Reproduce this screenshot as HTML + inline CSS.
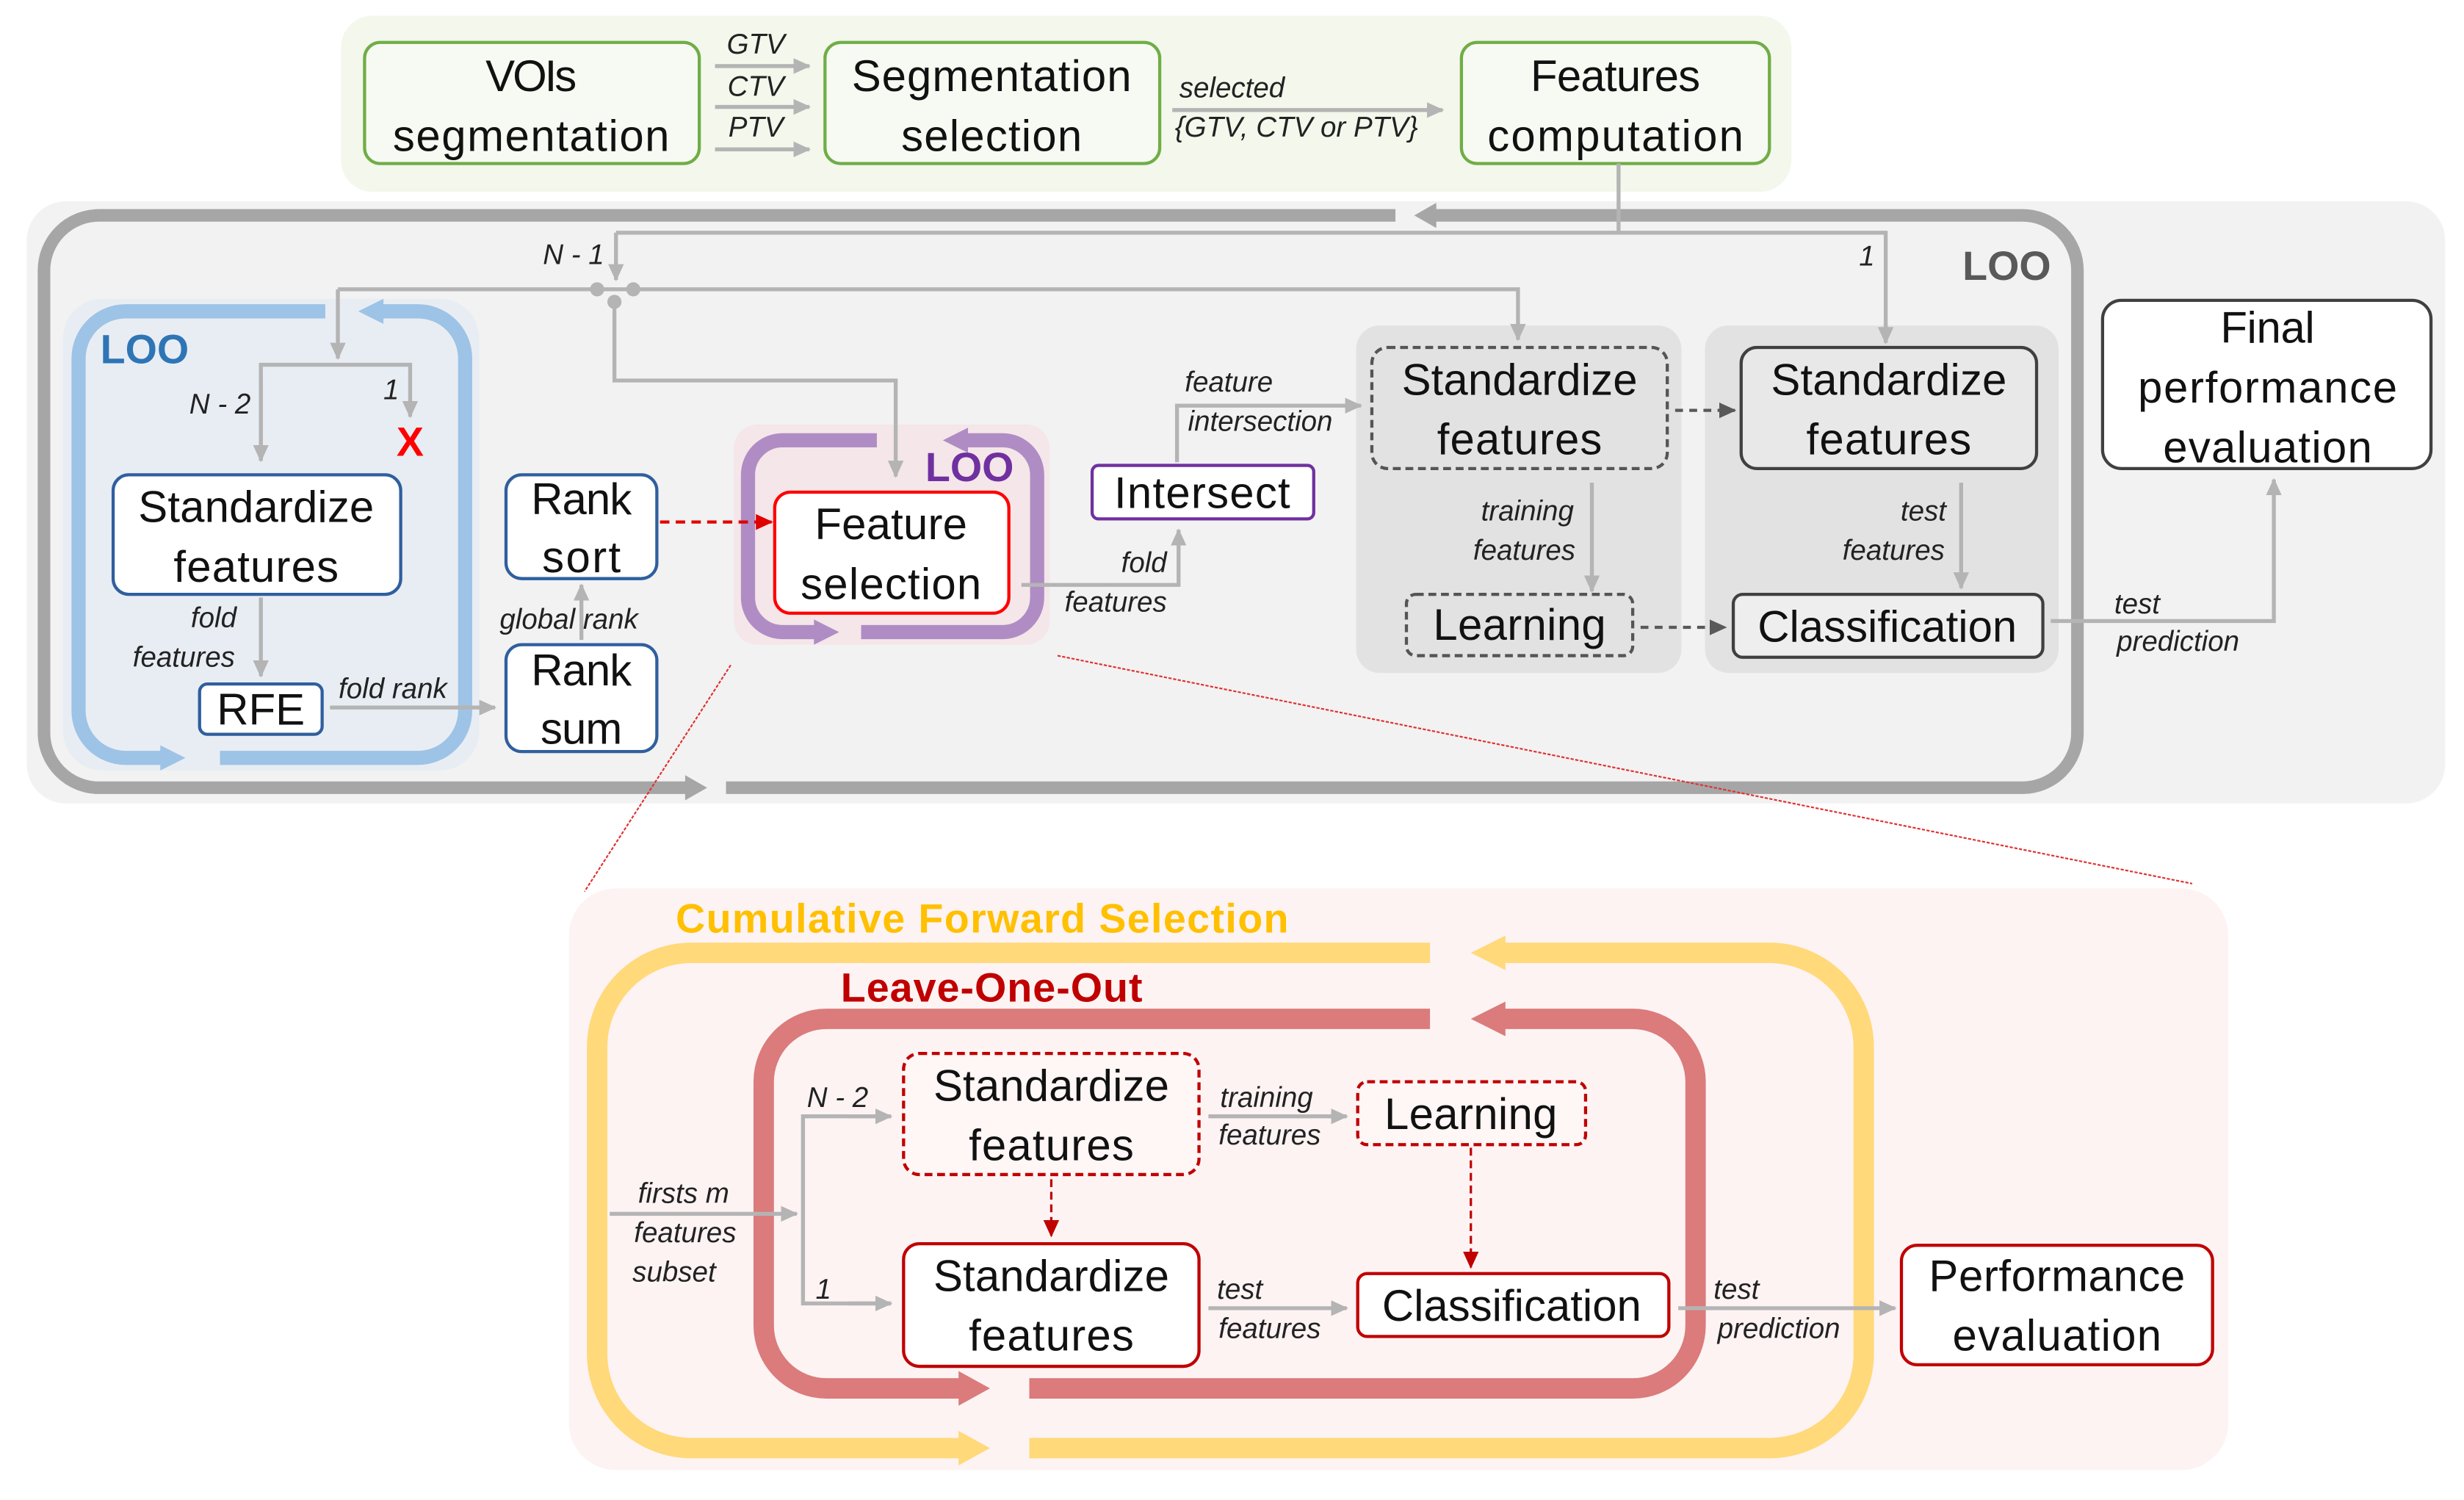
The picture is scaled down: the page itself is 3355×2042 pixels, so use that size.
<!DOCTYPE html>
<html><head><meta charset="utf-8"><style>
html,body{margin:0;padding:0;background:#fff;}
svg{display:block}
text{font-family:"Liberation Sans Narrow","Liberation Sans",sans-serif;}
.b{font-size:28px;fill:#111;text-anchor:middle;}
.i{font-size:18px;font-style:italic;fill:#222;text-anchor:middle;}
.g{stroke:#b4b4b4;stroke-width:2.5;fill:none;}
</style></head><body>
<svg width="3355" height="2042" viewBox="0 0 1568 954" preserveAspectRatio="none" xmlns="http://www.w3.org/2000/svg">
<defs>
<marker id="ag" markerUnits="userSpaceOnUse" markerWidth="12" markerHeight="12" refX="10" refY="6" orient="auto"><path d="M0,1 L11,6 L0,11z" fill="#b4b4b4"/></marker>
<marker id="ad" markerUnits="userSpaceOnUse" markerWidth="12" markerHeight="12" refX="10" refY="6" orient="auto"><path d="M0,1 L11,6 L0,11z" fill="#595959"/></marker>
<marker id="ar" markerUnits="userSpaceOnUse" markerWidth="12" markerHeight="12" refX="10" refY="6" orient="auto"><path d="M0,1 L11,6 L0,11z" fill="#e00000"/></marker>
<marker id="ar2" markerUnits="userSpaceOnUse" markerWidth="12" markerHeight="12" refX="10" refY="6" orient="auto"><path d="M0,1 L11,6 L0,11z" fill="#c00000"/></marker>
</defs>

<!-- top green panel -->
<rect x="217" y="10" width="923" height="112" rx="20" fill="#f3f7ec"/>
<g fill="#fff" stroke="#70ad47" stroke-width="2">
<rect x="232" y="27" width="213" height="77" rx="10" fill="#f6faf2"/>
<rect x="525" y="27" width="213" height="77" rx="10" fill="#f6faf2"/>
<rect x="930" y="27" width="196" height="77" rx="10" fill="#f6faf2"/>
</g>
<text class="b" x="338" y="58" textLength="58">VOIs</text>
<text class="b" x="338" y="96" textLength="176">segmentation</text>
<text class="b" x="631" y="58" textLength="178">Segmentation</text>
<text class="b" x="631" y="96" textLength="115">selection</text>
<text class="b" x="1028" y="58" textLength="108">Features</text>
<text class="b" x="1028" y="96" textLength="163">computation</text>
<line class="g" x1="455" y1="42" x2="515" y2="42" marker-end="url(#ag)"/>
<line class="g" x1="455" y1="68" x2="515" y2="68" marker-end="url(#ag)"/>
<line class="g" x1="455" y1="95" x2="515" y2="95" marker-end="url(#ag)"/>
<text class="i" x="481" y="34">GTV</text>
<text class="i" x="481" y="61">CTV</text>
<text class="i" x="481" y="87">PTV</text>
<line class="g" x1="746" y1="70" x2="918" y2="70" marker-end="url(#ag)"/>
<text class="i" x="784" y="62">selected</text>
<text class="i" x="825" y="87">{GTV, CTV or PTV}</text>

<!-- gray panel -->
<rect x="17" y="128" width="1539" height="383" rx="25" fill="#f2f2f2"/>
<rect x="863" y="207" width="207" height="221" rx="15" fill="#e2e2e2"/>
<rect x="1085" y="207" width="225" height="221" rx="15" fill="#e2e2e2"/>
<g fill="none" stroke="#a6a6a6" stroke-width="8">
<path d="M888,137 H63 A35,35 0 0 0 28,172 V466 A35,35 0 0 0 63,501 H440"/>
<path d="M462,501 H1287 A35,35 0 0 0 1322,466 V172 A35,35 0 0 0 1287,137 H912"/>
</g>
<polygon points="436,493 450,501 436,509" fill="#a6a6a6"/>
<polygon points="914,129 900,137 914,145" fill="#a6a6a6"/>
<text x="1277" y="178" font-size="26" font-weight="bold" fill="#595959" text-anchor="middle">LOO</text>

<!-- blue panel -->
<rect x="40" y="190" width="265" height="300" rx="25" fill="#e8edf4"/>
<g fill="none" stroke="#9dc3e6" stroke-width="9">
<path d="M207,198 H80 A30,30 0 0 0 50,228 V452 A30,30 0 0 0 80,482 H105"/>
<path d="M140,482 H266 A30,30 0 0 0 296,452 V228 A30,30 0 0 0 266,198 H242"/>
</g>
<polygon points="102,474 118,482 102,490" fill="#9dc3e6"/>
<polygon points="244,190 228,198 244,206" fill="#9dc3e6"/>
<text x="92" y="231" font-size="26" font-weight="bold" fill="#2e75b6" text-anchor="middle">LOO</text>

<!-- purple panel -->
<rect x="467" y="270" width="201" height="140" rx="15" fill="#f4e6e9"/>
<g fill="none" stroke="#b08cc4" stroke-width="9">
<path d="M558,280 H498 A22,22 0 0 0 476,302 V380 A22,22 0 0 0 498,402 H520"/>
<path d="M548,402 H638 A22,22 0 0 0 660,380 V302 A22,22 0 0 0 638,280 H614"/>
</g>
<polygon points="518,394 534,402 518,410" fill="#b08cc4"/>
<polygon points="616,272 600,280 616,288" fill="#b08cc4"/>
<text x="617" y="306" font-size="26" font-weight="bold" fill="#7030a0" text-anchor="middle">LOO</text>

<!-- connectors from features computation -->
<polyline class="g" points="1030,104 1030,148"/>
<polyline class="g" points="392,148 1200,148 1200,218" marker-end="url(#ag)"/>
<line class="g" x1="392" y1="148" x2="392" y2="178" marker-end="url(#ag)"/>
<text class="i" x="365" y="168">N - 1</text>
<text class="i" x="1188" y="169">1</text>
<polyline class="g" points="215,184 966,184 966,216" marker-end="url(#ag)"/>
<line class="g" x1="215" y1="184" x2="215" y2="228" marker-end="url(#ag)"/>
<polyline class="g" points="391,192 391,242 570,242 570,303" marker-end="url(#ag)"/>
<circle cx="380" cy="184" r="4.5" fill="#b4b4b4"/>
<circle cx="403" cy="184" r="4.5" fill="#b4b4b4"/>
<circle cx="391" cy="192" r="4.5" fill="#b4b4b4"/>

<!-- blue internals -->
<polyline class="g" points="166,293 166,232 261,232 261,265" marker-end="url(#ag)"/>
<line class="g" x1="166" y1="240" x2="166" y2="293" marker-end="url(#ag)"/>
<text class="i" x="140" y="263">N - 2</text>
<text class="i" x="249" y="254">1</text>
<text x="261" y="290" font-size="26" font-weight="bold" fill="#ff0000" text-anchor="middle">X</text>
<rect x="72" y="302" width="183" height="76" rx="10" fill="#fff" stroke="#2f5f9e" stroke-width="2"/>
<text class="b" x="163" y="332" textLength="150">Standardize</text>
<text class="b" x="163" y="370" textLength="105">features</text>
<line class="g" x1="166" y1="380" x2="166" y2="430" marker-end="url(#ag)"/>
<text class="i" x="136" y="399">fold</text>
<text class="i" x="117" y="424">features</text>
<rect x="127" y="435" width="78" height="32" rx="5" fill="#fff" stroke="#2f5f9e" stroke-width="2"/>
<text class="b" x="166" y="461">RFE</text>
<line class="g" x1="210" y1="450" x2="315" y2="450" marker-end="url(#ag)"/>
<text class="i" x="250" y="444">fold rank</text>
<rect x="322" y="302" width="96" height="66" rx="10" fill="#fff" stroke="#2f5f9e" stroke-width="2"/>
<text class="b" x="370" y="327" textLength="64">Rank</text>
<text class="b" x="370" y="364" textLength="50">sort</text>
<rect x="322" y="410" width="96" height="68" rx="10" fill="#fff" stroke="#2f5f9e" stroke-width="2"/>
<text class="b" x="370" y="436" textLength="64">Rank</text>
<text class="b" x="370" y="473" textLength="52">sum</text>
<line class="g" x1="370" y1="407" x2="370" y2="372" marker-end="url(#ag)"/>
<text class="i" x="362" y="400">global rank</text>
<line x1="420" y1="332" x2="491" y2="332" stroke="#e00000" stroke-width="2" stroke-dasharray="6,4" marker-end="url(#ar)"/>

<!-- feature selection -->
<rect x="493" y="313" width="149" height="77" rx="10" fill="#fff" stroke="#ff0000" stroke-width="2"/>
<text class="b" x="567" y="343" textLength="97">Feature</text>
<text class="b" x="567" y="381" textLength="115">selection</text>
<polyline class="g" points="650,372 750,372 750,337" marker-end="url(#ag)"/>
<text class="i" x="728" y="364">fold</text>
<text class="i" x="710" y="389">features</text>
<rect x="695" y="296" width="141" height="34" rx="4" fill="#fff" stroke="#7030a0" stroke-width="2"/>
<text class="b" x="765" y="323" textLength="112">Intersect</text>
<polyline class="g" points="749,294 749,258 866,258" marker-end="url(#ag)"/>
<text class="i" x="782" y="249">feature</text>
<text class="i" x="802" y="274">intersection</text>

<!-- gray panel 1 -->
<rect x="873" y="221" width="188" height="77" rx="10" fill="none" stroke="#555" stroke-width="2" stroke-dasharray="5,3"/>
<text class="b" x="967" y="251" textLength="150">Standardize</text>
<text class="b" x="967" y="289" textLength="105">features</text>
<line class="g" x1="1013" y1="307" x2="1013" y2="376" marker-end="url(#ag)"/>
<text class="i" x="972" y="331">training</text>
<text class="i" x="970" y="356">features</text>
<rect x="895" y="378" width="144" height="39" rx="6" fill="none" stroke="#555" stroke-width="2" stroke-dasharray="5,3"/>
<text class="b" x="967" y="407" textLength="110">Learning</text>
<line x1="1066" y1="261" x2="1104" y2="261" stroke="#595959" stroke-width="2" stroke-dasharray="5,4" marker-end="url(#ad)"/>
<line x1="1044" y1="399" x2="1098" y2="399" stroke="#595959" stroke-width="2" stroke-dasharray="5,4" marker-end="url(#ad)"/>

<!-- gray panel 2 -->
<rect x="1108" y="221" width="188" height="77" rx="10" fill="#e8e8e8" stroke="#404040" stroke-width="2"/>
<text class="b" x="1202" y="251" textLength="150">Standardize</text>
<text class="b" x="1202" y="289" textLength="105">features</text>
<line class="g" x1="1248" y1="307" x2="1248" y2="374" marker-end="url(#ag)"/>
<text class="i" x="1224" y="331">test</text>
<text class="i" x="1205" y="356">features</text>
<rect x="1103" y="378" width="197" height="40" rx="6" fill="#eee" stroke="#404040" stroke-width="2"/>
<text class="b" x="1201" y="408" textLength="165">Classification</text>
<polyline class="g" points="1305,395 1447,395 1447,305" marker-end="url(#ag)"/>
<text class="i" x="1360" y="390">test</text>
<text class="i" x="1386" y="414">prediction</text>
<rect x="1338" y="191" width="209" height="107" rx="12" fill="#fff" stroke="#404040" stroke-width="2"/>
<text class="b" x="1443" y="218" textLength="60">Final</text>
<text class="b" x="1443" y="256" textLength="165">performance</text>
<text class="b" x="1443" y="294" textLength="133">evaluation</text>

<!-- zoom lines -->
<line x1="465" y1="423" x2="372" y2="567" stroke="#e03030" stroke-width="1" stroke-dasharray="2,1"/>
<line x1="673" y1="417" x2="1395" y2="562" stroke="#e03030" stroke-width="1" stroke-dasharray="2,1"/>

<!-- bottom pink panel -->
<rect x="362" y="565" width="1056" height="370" rx="30" fill="#fdf3f3"/>
<text x="625" y="593" font-size="26" font-weight="bold" fill="#ffc000" text-anchor="middle" textLength="390">Cumulative Forward Selection</text>
<g fill="none" stroke="#ffd97a" stroke-width="13">
<path d="M910,606 H440 A60,60 0 0 0 380,666 V861 A60,60 0 0 0 440,921 H612"/>
<path d="M655,921 H1126 A60,60 0 0 0 1186,861 V666 A60,60 0 0 0 1126,606 H956"/>
</g>
<polygon points="610,910 630,921 610,932" fill="#ffd97a"/>
<polygon points="958,595 936,606 958,617" fill="#ffd97a"/>
<text x="631" y="637" font-size="26" font-weight="bold" fill="#c00000" text-anchor="middle" textLength="192">Leave-One-Out</text>
<g fill="none" stroke="#db7b7b" stroke-width="13">
<path d="M910,648 H526 A40,40 0 0 0 486,688 V843 A40,40 0 0 0 526,883 H612"/>
<path d="M655,883 H1039 A40,40 0 0 0 1079,843 V688 A40,40 0 0 0 1039,648 H956"/>
</g>
<polygon points="610,872 630,883 610,894" fill="#db7b7b"/>
<polygon points="958,637 936,648 958,659" fill="#db7b7b"/>

<rect x="575" y="670" width="188" height="77" rx="10" fill="#fff6f6" stroke="#c00000" stroke-width="2" stroke-dasharray="5,3"/>
<text class="b" x="669" y="700" textLength="150">Standardize</text>
<text class="b" x="669" y="738" textLength="105">features</text>
<rect x="864" y="688" width="145" height="40" rx="6" fill="#fff6f6" stroke="#c00000" stroke-width="2" stroke-dasharray="5,3"/>
<text class="b" x="936" y="718" textLength="110">Learning</text>
<rect x="575" y="791" width="188" height="78" rx="10" fill="#fff" stroke="#c00000" stroke-width="2"/>
<text class="b" x="669" y="821" textLength="150">Standardize</text>
<text class="b" x="669" y="859" textLength="105">features</text>
<rect x="864" y="810" width="198" height="40" rx="6" fill="#fff" stroke="#c00000" stroke-width="2"/>
<text class="b" x="962" y="840" textLength="165">Classification</text>
<rect x="1210" y="792" width="198" height="76" rx="10" fill="#fff" stroke="#c00000" stroke-width="2"/>
<text class="b" x="1309" y="821" textLength="163">Performance</text>
<text class="b" x="1309" y="859" textLength="133">evaluation</text>

<line class="g" x1="388" y1="772" x2="507" y2="772" marker-end="url(#ag)"/>
<text class="i" x="435" y="765">firsts m</text>
<text class="i" x="436" y="790">features</text>
<text class="i" x="429" y="815">subset</text>
<polyline class="g" points="567,710 511,710 511,829 567,829" />
<line class="g" x1="540" y1="710" x2="567" y2="710" marker-end="url(#ag)"/>
<line class="g" x1="540" y1="829" x2="567" y2="829" marker-end="url(#ag)"/>
<text class="i" x="533" y="704">N - 2</text>
<text class="i" x="524" y="826">1</text>
<line class="g" x1="769" y1="710" x2="857" y2="710" marker-end="url(#ag)"/>
<text class="i" x="806" y="704">training</text>
<text class="i" x="808" y="728">features</text>
<line class="g" x1="769" y1="832" x2="857" y2="832" marker-end="url(#ag)"/>
<text class="i" x="789" y="826">test</text>
<text class="i" x="808" y="851">features</text>
<line class="g" x1="1068" y1="832" x2="1206" y2="832" marker-end="url(#ag)"/>
<text class="i" x="1105" y="826">test</text>
<text class="i" x="1132" y="851">prediction</text>
<line x1="669" y1="750" x2="669" y2="786" stroke="#c00000" stroke-width="1.5" stroke-dasharray="5,3" marker-end="url(#ar2)"/>
<line x1="936" y1="730" x2="936" y2="806" stroke="#c00000" stroke-width="1.5" stroke-dasharray="5,3" marker-end="url(#ar2)"/>
</svg>
</body></html>
